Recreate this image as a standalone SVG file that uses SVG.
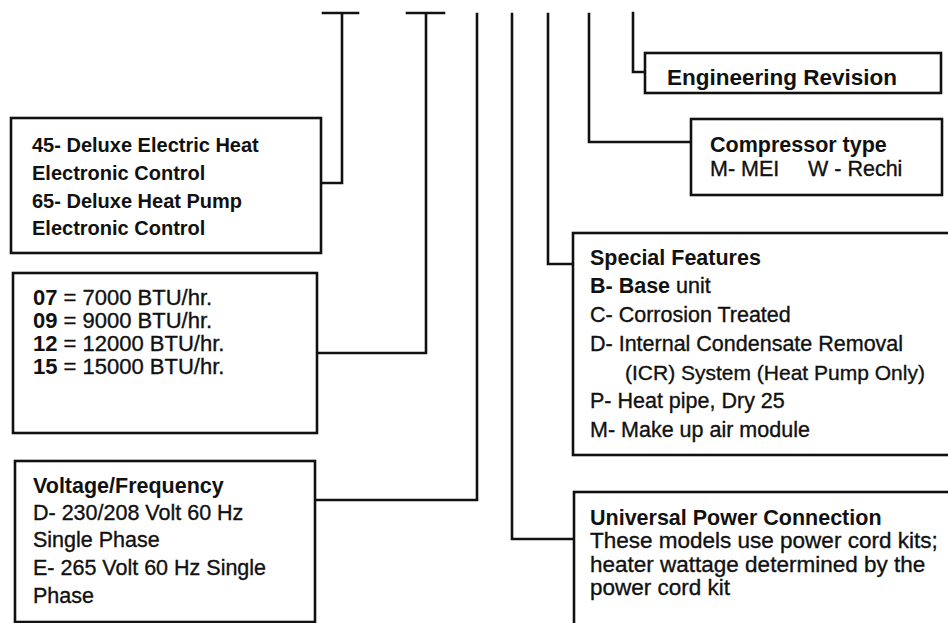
<svg xmlns="http://www.w3.org/2000/svg" width="948" height="623" viewBox="0 0 948 623">
<style>
.bg{fill:#fff}
.box{fill:#fff;stroke:#111;stroke-width:2.6}
.ln{fill:none;stroke:#111;stroke-width:2.6;stroke-linecap:square;stroke-linejoin:miter}
text{font-family:"Liberation Sans",Arial,sans-serif;font-size:21.5px;fill:#111;stroke:#111;stroke-width:0.35}
.b{font-weight:bold;stroke-width:0}
.b20{font-weight:bold;font-size:20px;stroke-width:0}
.big{font-size:22.5px}
.f22{font-size:22px}
.f21{font-size:21px}
</style>
<rect class="bg" x="0" y="0" width="948" height="623"/>
<g id="connectors">
<path class="ln" d="M323 13 H358 M342 13 V183 H321"/>
<path class="ln" d="M407 13 H444 M426 13 V353 H317"/>
<path class="ln" d="M477 14 V500 H315"/>
<path class="ln" d="M512 14 V539 H574"/>
<path class="ln" d="M548 14 V264 H573"/>
<path class="ln" d="M589 14 V142 H691"/>
<path class="ln" d="M633 13 V72 H645"/>
</g>
<g id="node-engineering-revision">
<rect class="box" x="645" y="53" width="296" height="40"/>
<text class="b big" x="667" y="85">Engineering Revision</text>
</g>
<g id="node-compressor">
<rect class="box" x="691" y="119" width="251" height="76"/>
<text class="b" x="710" y="152">Compressor type</text>
<text x="710" y="176">M- MEI</text>
<text x="808" y="176">W - Rechi</text>
</g>
<g id="node-special-features">
<rect class="box" x="573" y="233" width="390" height="222"/>
<text class="b" x="590" y="265">Special Features</text>
<text x="590" y="293"><tspan class="b">B- Base</tspan> unit</text>
<text x="590" y="322">C- Corrosion Treated</text>
<text x="590" y="351">D- Internal Condensate Removal</text>
<text class="f21" x="625" y="380">(ICR) System (Heat Pump Only)</text>
<text x="590" y="408">P- Heat pipe, Dry 25</text>
<text x="590" y="437">M- Make up air module</text>
</g>
<g id="node-universal-power">
<rect class="box" x="574" y="492" width="390" height="140"/>
<text class="b" x="590" y="525">Universal Power Connection</text>
<text class="big" x="590" y="548">These models use power cord kits;</text>
<text class="big" x="590" y="572">heater wattage determined by the</text>
<text class="big" x="590" y="595">power cord kit</text>
</g>
<g id="node-model-type">
<rect class="box" x="11" y="118" width="310" height="135"/>
<text class="b20" x="32" y="152">45- Deluxe Electric Heat</text>
<text class="b20" x="32" y="180">Electronic Control</text>
<text class="b20" x="32" y="208">65- Deluxe Heat Pump</text>
<text class="b20" x="32" y="235">Electronic Control</text>
</g>
<g id="node-btu">
<rect class="box" x="13" y="273" width="304" height="160"/>
<text class="f22" x="33" y="305"><tspan class="b">07</tspan> = 7000 BTU/hr.</text>
<text class="f22" x="33" y="328"><tspan class="b">09</tspan> = 9000 BTU/hr.</text>
<text class="f22" x="33" y="351"><tspan class="b">12</tspan> = 12000 BTU/hr.</text>
<text class="f22" x="33" y="374"><tspan class="b">15</tspan> = 15000 BTU/hr.</text>
</g>
<g id="node-voltage">
<rect class="box" x="15" y="461" width="300" height="161"/>
<text class="b" x="33" y="493">Voltage/Frequency</text>
<text x="33" y="520">D- 230/208 Volt 60 Hz</text>
<text x="33" y="547">Single Phase</text>
<text x="33" y="575">E- 265 Volt 60 Hz Single</text>
<text x="33" y="603">Phase</text>
</g>
</svg>
